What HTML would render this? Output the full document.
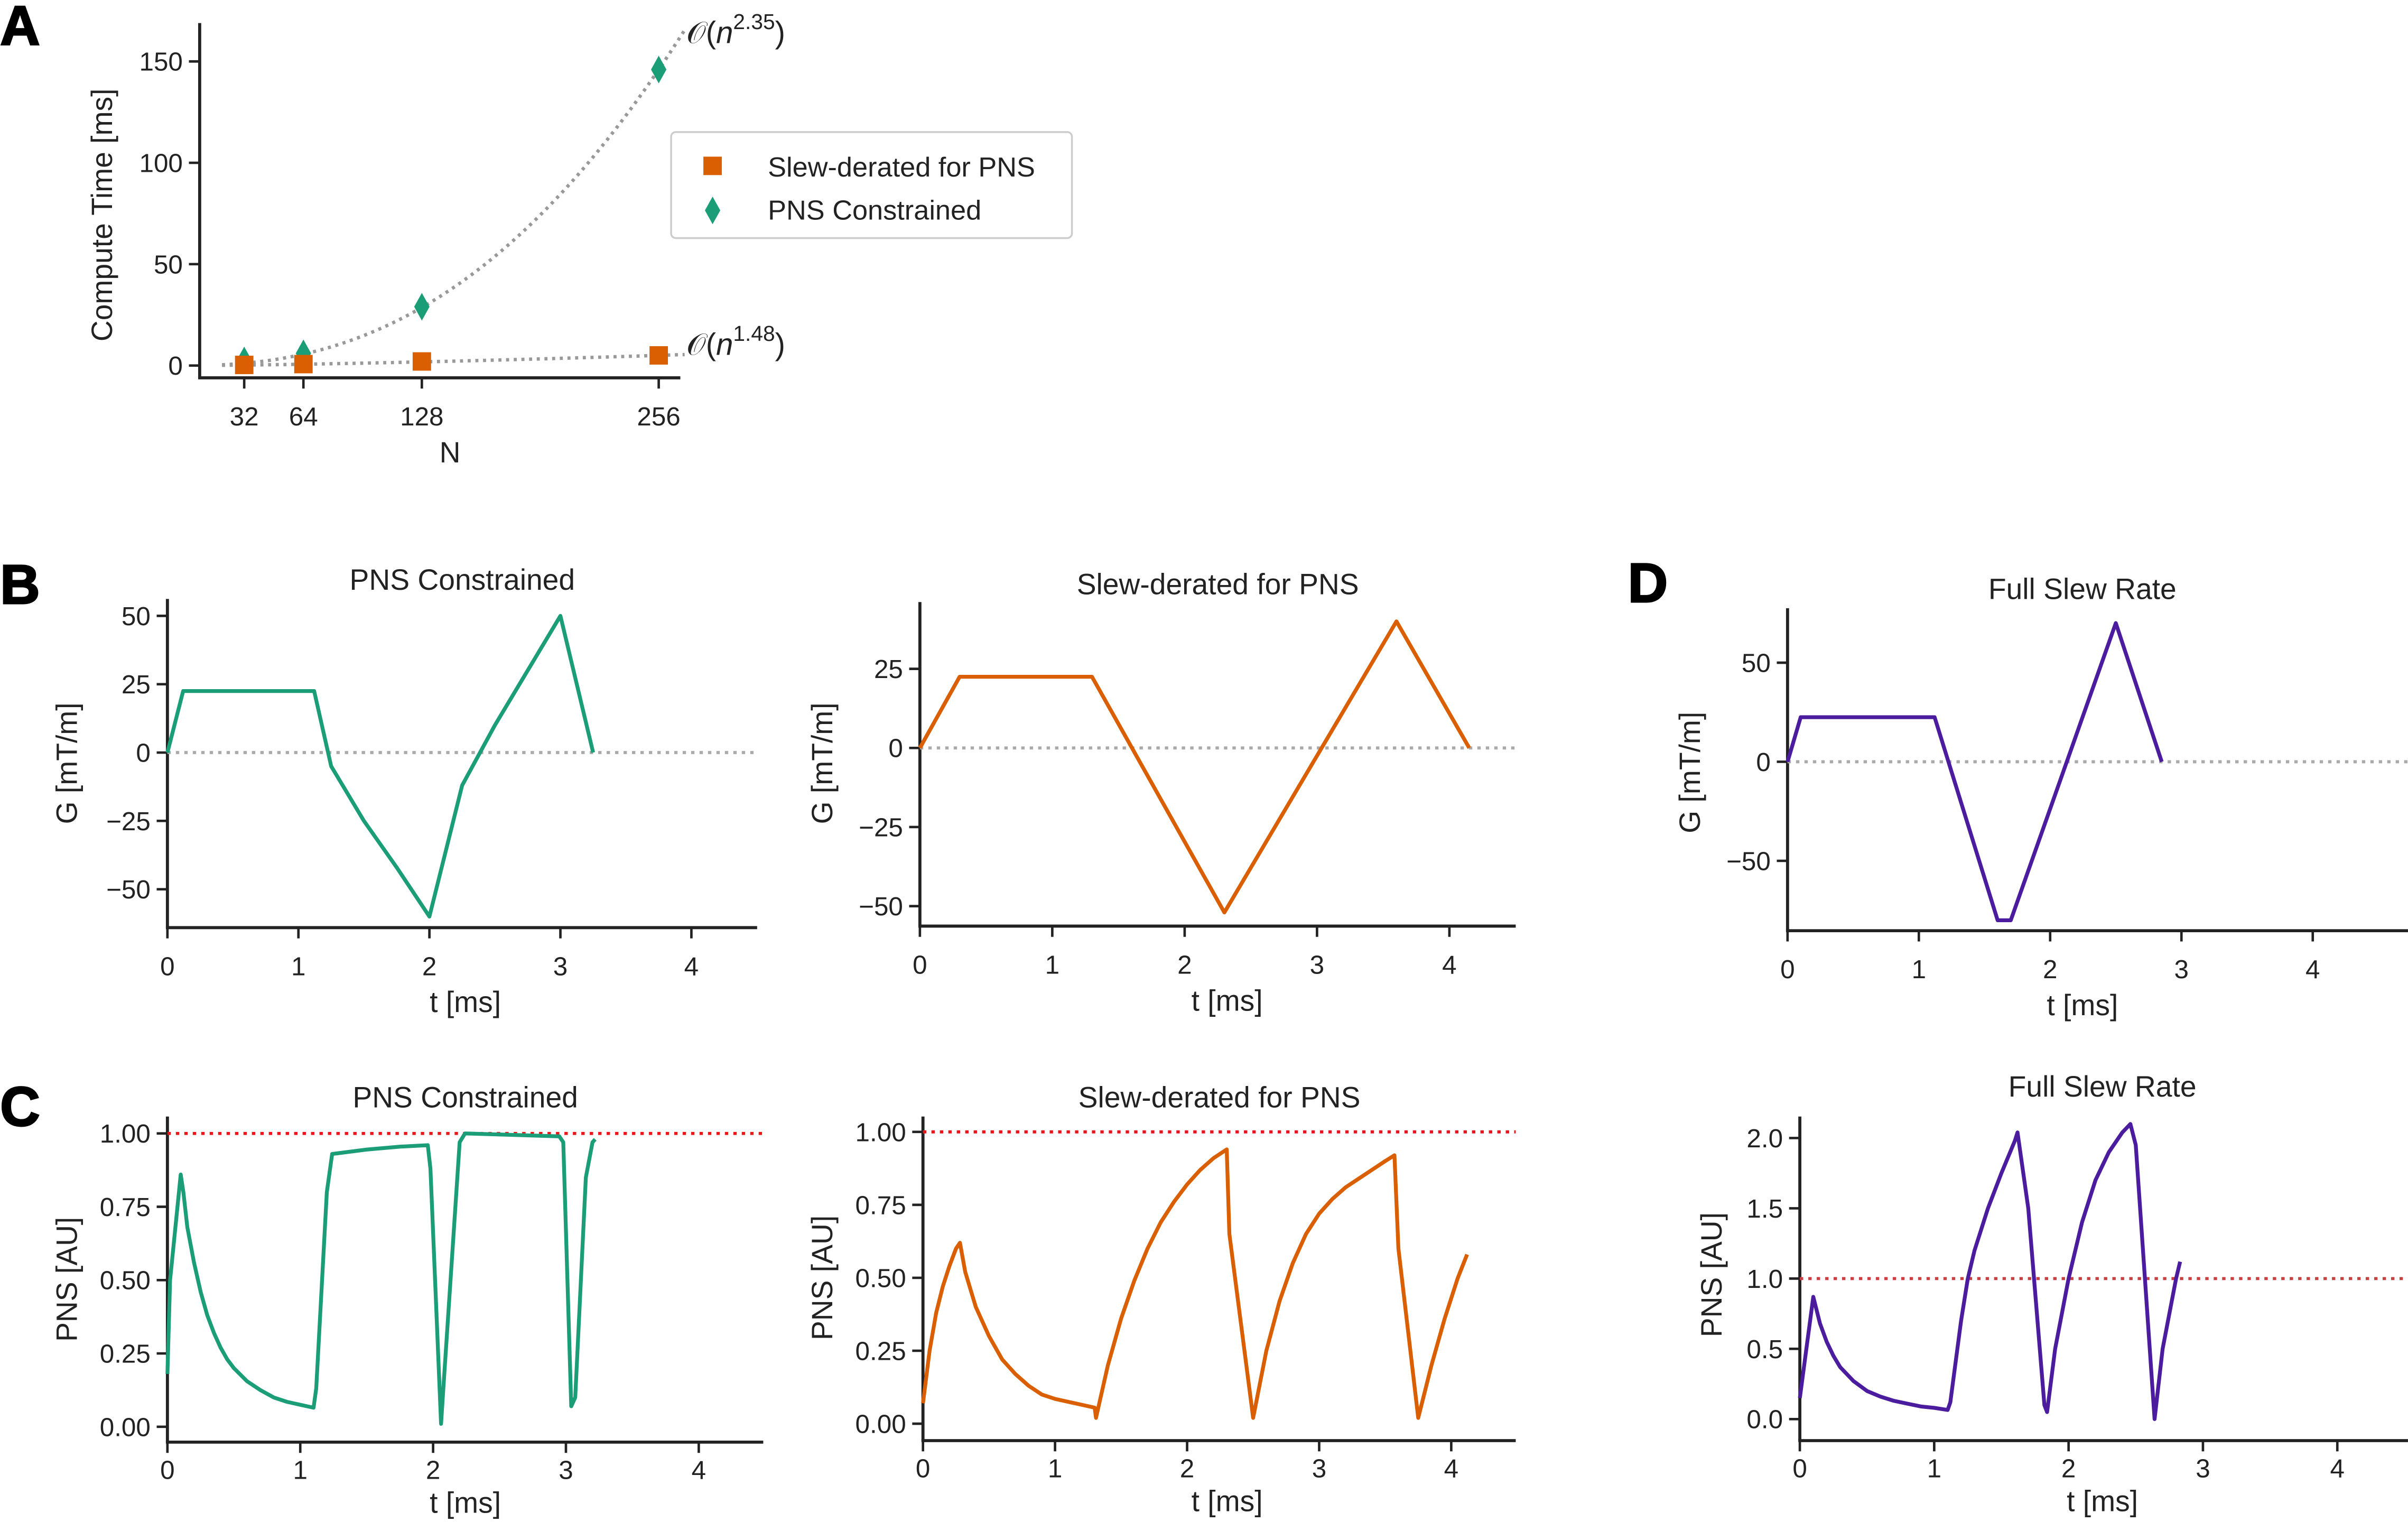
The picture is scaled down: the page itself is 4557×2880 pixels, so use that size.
<!DOCTYPE html>
<html><head><meta charset="utf-8"><style>
html,body{margin:0;padding:0;background:#fff;}
svg{display:block;font-family:"Liberation Sans",sans-serif;}
</style></head><body>
<svg id="fig" width="4557" height="2880" viewBox="0 0 1568 991" xmlns="http://www.w3.org/2000/svg"></svg>
<script>
// ---- Panel A data ----
const nCategories = [32, 64, 128, 256];
const slewTimes = [0.3, 0.7, 2, 5];
const pnsTimes = [2.5, 6, 29, 146];
const aYTicks = [0, 50, 100, 150];
const fitExpPNS = 2.35;
const fitExpSlew = 1.48;

// ---- Panel B data (G waveforms) ----
const b1T = [0, 0.12, 1.12, 1.25, 1.5, 1.75, 2.0, 2.25, 2.5, 2.75, 3.0, 3.25];
const b1G = [0, 22.5, 22.5, -5, -25, -42, -60, -12, 10, 30, 50, 0];
const b2T = [0, 0.3, 1.3, 2.3, 3.6, 4.15];
const b2G = [0, 22.5, 22.5, -52, 40, 0];
const d1T = [0, 0.1, 1.12, 1.6, 1.7, 2.5, 2.85];
const d1G = [0, 22.5, 22.5, -80, -80, 70, 0];

// ---- Panel C / D PNS ----
const c1T = [0,0.02,0.1,0.12,0.15,0.2,0.25,0.3,0.35,0.4,0.45,0.5,0.6,0.7,0.8,0.9,1.0,1.1,1.12,1.2,1.24,1.5,1.75,1.96,1.98,2.06,2.08,2.2,2.24,2.95,2.98,3.04,3.07,3.15,3.2,3.22];
const c1P = [0.18,0.5,0.86,0.8,0.68,0.56,0.46,0.38,0.32,0.27,0.23,0.2,0.155,0.125,0.1,0.085,0.075,0.065,0.13,0.8,0.93,0.945,0.955,0.96,0.88,0.01,0.15,0.97,1.0,0.99,0.97,0.07,0.1,0.85,0.97,0.98];
const c2T = [0,0.05,0.1,0.15,0.2,0.25,0.28,0.32,0.4,0.5,0.6,0.7,0.8,0.9,1.0,1.15,1.3,1.31,1.4,1.5,1.6,1.7,1.8,1.9,2.0,2.1,2.2,2.3,2.32,2.5,2.6,2.7,2.8,2.9,3.0,3.1,3.2,3.3,3.4,3.5,3.57,3.6,3.75,3.85,3.95,4.05,4.12];
const c2P = [0.07,0.25,0.38,0.47,0.54,0.6,0.62,0.52,0.4,0.3,0.22,0.17,0.13,0.1,0.085,0.07,0.055,0.02,0.2,0.36,0.49,0.6,0.69,0.76,0.82,0.87,0.91,0.94,0.65,0.02,0.25,0.42,0.55,0.65,0.72,0.77,0.81,0.84,0.87,0.9,0.92,0.6,0.02,0.2,0.36,0.5,0.58];
const d2T = [0,0.1,0.15,0.2,0.25,0.3,0.4,0.5,0.6,0.7,0.8,0.9,1.0,1.1,1.12,1.2,1.25,1.3,1.4,1.5,1.6,1.62,1.7,1.82,1.84,1.9,2.0,2.1,2.2,2.3,2.4,2.46,2.5,2.64,2.7,2.8,2.83];
const d2P = [0.15,0.87,0.68,0.55,0.45,0.37,0.27,0.2,0.16,0.13,0.11,0.09,0.08,0.065,0.12,0.7,1.0,1.2,1.5,1.75,1.98,2.04,1.5,0.1,0.05,0.5,1.0,1.4,1.7,1.9,2.04,2.1,1.95,0.0,0.5,1.0,1.12];

const tTicks = [0,1,2,3,4];
const gTicksB1 = [-50,-25,0,25,50];
const gTicksB2 = [-50,-25,0,25];
const gTicksD1 = [-50,0,50];
const pTicksC = [0,0.25,0.5,0.75,1.0];
const pTicksD = [0,0.5,1.0,1.5,2.0];

const svg = document.getElementById('fig');
const NS = 'http://www.w3.org/2000/svg';
function mk(tag, attrs, parent){
  const e = document.createElementNS(NS, tag);
  for (const k in attrs) e.setAttribute(k, attrs[k]);
  (parent||svg).appendChild(e);
  return e;
}
function txt(s, x, y, size, anchor, parent, extra){
  const e = mk('text', Object.assign({x:x, y:y, 'font-size':size, 'text-anchor':anchor||'middle', fill:'#222'}, extra||{}), parent);
  e.textContent = s;
  return e;
}
const AX = '#222';

function panel(cfg){
  const g = mk('g', {});
  
  
  const xs = v => cfg.x0 + (v - cfg.xv0) * cfg.xk;
  const ys = v => cfg.y0 - (v - cfg.yv0) * cfg.yk;
  const tdy = cfg.tickDy || 31, ttdy = cfg.titleDy || 55;
  const ya = mk('line', {x1:cfg.axL, y1:cfg.axTop, x2:cfg.axL, y2:cfg.axB, stroke:AX, 'stroke-width':2}, g);
  
  
  const xa = mk('line', {x1:cfg.axL-1, y1:cfg.axB, x2:cfg.axR, y2:cfg.axB, stroke:AX, 'stroke-width':2}, g);
  
  
  cfg.xticks.forEach((v,i) => {
    const X = xs(v);
    mk('line', {x1:X, y1:cfg.axB, x2:X, y2:cfg.axB+7, stroke:AX, 'stroke-width':1.6}, g);
    const t = txt(cfg.xlabels ? cfg.xlabels[i] : String(v), X, cfg.axB+tdy, 17, 'middle', g);
    
    
  });
  cfg.yticks.forEach((v,i) => {
    const Y = ys(v);
    mk('line', {x1:cfg.axL-7, y1:Y, x2:cfg.axL, y2:Y, stroke:AX, 'stroke-width':1.6}, g);
    const s = cfg.yfmt ? cfg.yfmt(v) : String(v).replace('-', '\u2212');
    const t = txt(s, cfg.axL-11, Y+6, 17, 'end', g);
    
    
  });
  if (cfg.xtitle){
    const t = txt(cfg.xtitle, cfg.xtitleX, cfg.axB+ttdy, 19, 'middle', g);
    
    
  }
  if (cfg.ytitle){
    const t = txt(cfg.ytitle, 0, 0, 19, 'middle', g, {transform:`translate(${cfg.ytitleX},${cfg.ytitleY}) rotate(-90)`});
    
    
  }
  if (cfg.title){
    const t = txt(cfg.title, cfg.titleX, cfg.titleY, 19, 'middle', g);
    
    
  }
  if (cfg.refLine !== undefined){
    const l = mk('line', {x1:cfg.axL, y1:ys(cfg.refLine), x2:cfg.axR, y2:ys(cfg.refLine), stroke:cfg.refColor, 'stroke-width':2, 'stroke-dasharray':'2.2 3.3'}, g);
    
    
  }
  if (cfg.series){
    const d = cfg.series.t.map((t,i) => (i?'L':'M') + xs(t).toFixed(2) + ' ' + ys(cfg.series.v[i]).toFixed(2)).join(' ');
    const p = mk('path', {d:d, fill:'none', stroke:cfg.color, 'stroke-width':2.5, 'stroke-linejoin':'round'}, g);
    
    
  }
  return {g, xs, ys};
}

[['A',0,29],['B',0,393],['C',0,733],['D',1060,392]].forEach(([s,x,y]) => {
  const t = txt(s, x, y, 36, 'start', svg, {'font-weight':'bold', fill:'#000', stroke:'#000', 'stroke-width':1});
  
  
});

// ---- Panel A ----
(function(){
  const pA = panel({name:'panel-a-compute-time', x0:159, xv0:32, xk:1.205, y0:238, yv0:0, yk:1.32,
    axL:130, axTop:15, axB:246, axR:443, xticks:nCategories, yticks:aYTicks,
    xtitle:'N', xtitleX:293, titleDy:55, ytitle:'Compute Time [ms]', ytitleX:73, ytitleY:140});
  const g = pA.g;
  function fitPath(exp, vals){
    const a = vals[3] / Math.pow(nCategories[3], exp);
    let d = '';
    for (let n = 20; n <= 270; n += 2){
      d += (n===20?'M':'L') + pA.xs(n).toFixed(2) + ' ' + pA.ys(a*Math.pow(n,exp)).toFixed(2) + ' ';
    }
    return d;
  }
  const f1 = mk('path', {d:fitPath(fitExpPNS, pnsTimes), fill:'none', stroke:'#999', 'stroke-width':2.2, 'stroke-dasharray':'2 3'}, g);
  
  
  const f2 = mk('path', {d:fitPath(fitExpSlew, slewTimes), fill:'none', stroke:'#999', 'stroke-width':2.2, 'stroke-dasharray':'2 3'}, g);
  
  
  nCategories.forEach((n,i) => {
    const X = pA.xs(n), Y = pA.ys(pnsTimes[i]);
    const dm = mk('path', {d:`M${X} ${Y-9} L${X+5} ${Y} L${X} ${Y+9} L${X-5} ${Y} Z`, fill:'#1b9e77'}, g);
    
    
  });
  nCategories.forEach((n,i) => {
    const X = pA.xs(n), Y = pA.ys(slewTimes[i]);
    const r = mk('rect', {x:X-6, y:Y-6, width:12, height:12, fill:'#d95f02'}, g);
    
    
  });
  const l1 = txt('', 447, 28, 20, 'start', g);
  l1.innerHTML = '𝒪(<tspan font-style="italic">n</tspan><tspan dy="-9" font-size="14">2.35</tspan><tspan dy="9">)</tspan>';
  
  
  const l2 = txt('', 447, 231, 20, 'start', g);
  l2.innerHTML = '𝒪(<tspan font-style="italic">n</tspan><tspan dy="-9" font-size="14">1.48</tspan><tspan dy="9">)</tspan>';
  
  
  const lg = mk('g', {}, g);
  
  
  mk('rect', {x:437, y:86, width:261, height:69, rx:3, fill:'#fff', stroke:'#ccc', 'stroke-width':1.2}, lg);
  const e1 = mk('rect', {x:458, y:102, width:12, height:12, fill:'#d95f02'}, lg);
  
  
  txt('Slew-derated for PNS', 500, 115, 18, 'start', lg);
  const e2 = mk('path', {d:'M464 128 L469 137 L464 146 L459 137 Z', fill:'#1b9e77'}, lg);
  
  
  txt('PNS Constrained', 500, 143, 18, 'start', lg);
})();

// ---- Panel B / D gradient ----
panel({name:'panel-b-pns-constrained-gradient', x0:109, xv0:0, xk:85.3, y0:490, yv0:0, yk:44.5/25,
  axL:109, axTop:390, axB:604, axR:493, xticks:tTicks, yticks:gTicksB1, xtitle:'t [ms]', xtitleX:303,
  ytitle:'G [mT/m]', ytitleX:50, ytitleY:497, title:'PNS Constrained', titleX:301, titleY:384,
  refLine:0, refColor:'#aaa', series:{t:b1T, v:b1G}, color:'#1b9e77'});
panel({name:'panel-b-slew-derated-gradient', x0:599, xv0:0, xk:86.2, y0:487, yv0:0, yk:51.5/25,
  axL:599, axTop:392, axB:603, axR:987, xticks:tTicks, yticks:gTicksB2, xtitle:'t [ms]', xtitleX:799,
  ytitle:'G [mT/m]', ytitleX:542, ytitleY:497, title:'Slew-derated for PNS', titleX:793, titleY:387,
  refLine:0, refColor:'#aaa', series:{t:b2T, v:b2G}, color:'#d95f02'});
panel({name:'panel-d-full-slew-gradient', x0:1164, xv0:0, xk:85.5, y0:496, yv0:0, yk:64.5/50,
  axL:1164, axTop:396, axB:606, axR:1568, xticks:tTicks, yticks:gTicksD1, xtitle:'t [ms]', xtitleX:1356,
  ytitle:'G [mT/m]', ytitleX:1107, ytitleY:503, title:'Full Slew Rate', titleX:1356, titleY:390,
  refLine:0, refColor:'#aaa', series:{t:d1T, v:d1G}, color:'#4b1d9e'});

// ---- Panel C / D PNS ----
const f2 = v => v.toFixed(2);
panel({name:'panel-c-pns-constrained-pns', x0:109, xv0:0, xk:86.5, y0:929, yv0:0, yk:191/1,
  axL:109, axTop:727, axB:939, axR:497, xticks:tTicks, yticks:pTicksC, yfmt:f2, xtitle:'t [ms]', xtitleX:303,
  tickDy:24, titleDy:46,
  ytitle:'PNS [AU]', ytitleX:50, ytitleY:833, title:'PNS Constrained', titleX:303, titleY:721,
  refLine:1, refColor:'#e8151b', series:{t:c1T, v:c1P}, color:'#1b9e77'});
panel({name:'panel-c-slew-derated-pns', x0:601, xv0:0, xk:86, y0:927, yv0:0, yk:190/1,
  axL:601, axTop:727, axB:938, axR:987, xticks:tTicks, yticks:pTicksC, yfmt:f2, xtitle:'t [ms]', xtitleX:799,
  tickDy:24, titleDy:46,
  ytitle:'PNS [AU]', ytitleX:542, ytitleY:832, title:'Slew-derated for PNS', titleX:794, titleY:721,
  refLine:1, refColor:'#e8151b', series:{t:c2T, v:c2P}, color:'#d95f02'});
panel({name:'panel-d-full-slew-pns', x0:1172, xv0:0, xk:87.5, y0:924, yv0:0, yk:91.5,
  axL:1172, axTop:727, axB:938, axR:1568, xticks:tTicks, yticks:pTicksD, yfmt:v=>v.toFixed(1), xtitle:'t [ms]', xtitleX:1369,
  tickDy:24, titleDy:46,
  ytitle:'PNS [AU]', ytitleX:1121, ytitleY:830, title:'Full Slew Rate', titleX:1369, titleY:714,
  refLine:1, refColor:'#c94040', series:{t:d2T, v:d2P}, color:'#4b1d9e'});
</script>
</body></html>
